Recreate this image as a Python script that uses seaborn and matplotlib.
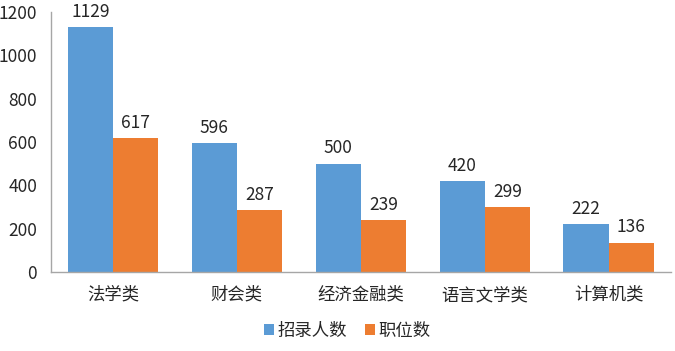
import matplotlib
matplotlib.use("Agg")
import matplotlib.pyplot as plt
import seaborn as sns
import pandas as pd

categories = ["法学类", "财会类", "经济金融类", "语言文学类", "计算机类"]
recruits = [1129, 596, 500, 420, 222]
positions = [617, 287, 239, 299, 136]
series_names = ["招录人数", "职位数"]
colors = ["#5B9BD5", "#ED7D31"]

df = pd.DataFrame({
    "类别": categories * 2,
    "值": recruits + positions,
    "系列": [series_names[0]] * len(categories) + [series_names[1]] * len(categories),
})

sns.set_style("white")
plt.rcParams["font.family"] = ["Noto Sans CJK SC", "DejaVu Sans"]

fig = plt.figure(figsize=(6.75, 3.51), dpi=100)
ax = fig.add_axes([0.0756, 0.225, 0.918, 0.741])
sns.barplot(data=df, x="类别", y="值", hue="系列", palette=colors,
            width=0.73, ax=ax, saturation=1, legend=True, linewidth=0)

txt = "#262626"
for cont in ax.containers:
    ax.bar_label(cont, labels=[f"{int(v)}" for v in cont.datavalues],
                 padding=4.5, fontsize=12.5, color=txt)

ax.set_ylim(0, 1200)
ax.set_yticks(range(0, 1201, 200))
ax.set_xlim(-0.5, 4.5)
ax.set_xlabel("")
ax.set_ylabel("")
ax.tick_params(axis="both", labelsize=12.5, colors=txt, length=0)
ax.tick_params(axis="y", pad=10)
ax.tick_params(axis="x", pad=10)
for s in ["top", "right"]:
    ax.spines[s].set_visible(False)
for s in ["left", "bottom"]:
    ax.spines[s].set_color("#A6A6A6")
    ax.spines[s].set_linewidth(1)

leg = ax.legend(loc="upper center", bbox_to_anchor=(0.478, -0.13), ncol=2,
                frameon=False, fontsize=12.5, handlelength=0.6, handleheight=0.6,
                handletextpad=0.2, columnspacing=1.0)
for t in leg.get_texts():
    t.set_color(txt)

fig.savefig("out.png", dpi=100)
